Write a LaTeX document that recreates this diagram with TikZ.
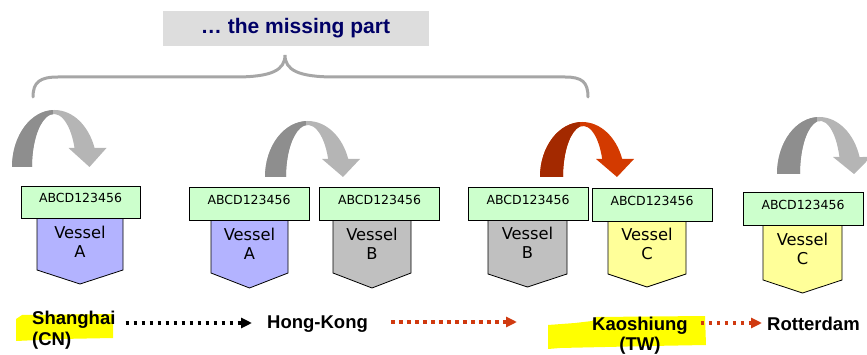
\documentclass[tikz,border=0pt]{standalone}
\usepackage{fontspec}
\setmainfont{Liberation Sans}
\newfontfamily\tagfont{DejaVu Sans}
\usetikzlibrary{arrows.meta}

\definecolor{titlegray}{HTML}{DDDDDD}
\definecolor{titlenavy}{HTML}{000066}
\definecolor{bracegray}{HTML}{A6A6A6}
\definecolor{taggreen}{HTML}{CCFFCC}
\definecolor{vesselA}{HTML}{B3B3FF}
\definecolor{vesselB}{HTML}{C0C0C0}
\definecolor{vesselC}{HTML}{FFFF99}
\definecolor{hilite}{HTML}{FFFF00}
\definecolor{routered}{HTML}{D03A10}
\definecolor{turnlight}{HTML}{B5B5B5}
\definecolor{turndark}{HTML}{8E8E8E}
\definecolor{turnredD}{HTML}{A32900}
\definecolor{turnredL}{HTML}{D33A00}

% U-turn arrow: #1 outer left x, #2 inner left x, #3 foot y, #4 crest y,
% #5 head base y, #6 head centre x, #7 rising colour, #8 falling colour
\newcommand\uturn[8]{%
  \pgfmathsetmacro\tcx{(#1+#6+9.5)/2}%
  \pgfmathsetmacro\trx{(#6+9.5-#1)/2}%
  \pgfmathsetmacro\try{#3-#4}%
  \pgfmathsetmacro\tcix{(#2+#6-11.5)/2}%
  \pgfmathsetmacro\tri{(#6-11.5-#2)/2}%
  \pgfmathsetmacro\triy{#3-#4-4}%
  \pgfmathsetmacro\tho{asin((#3-#5)/\try)}%
  \pgfmathsetmacro\thi{asin((#3-#5)/\triy)}%
  \pgfmathsetmacro\tix{\tcix+\tri*cos(\thi)}%
  \begin{scope}
    \clip (#1,-#3)
      arc[start angle=180,end angle=\tho,x radius=\trx,y radius=\try]
      -- (#6+19,-#5) -- (#6+2,-#3) -- (#6-19,-#5) -- (\tix,-#5)
      arc[start angle=\thi,end angle=180,x radius=\tri,y radius=\triy]
      -- cycle;
    \fill[#8] (#1-1,-#3-1) rectangle (#6+21,-#4+1);
    \fill[#7] (#1-1,-#3-1) rectangle (\tcx-2,-#4+1);
  \end{scope}}

% vessel hull: #1 left x, #2 right x, #3 top y, #4 side bottom y, #5 tip y, #6 fill
\newcommand\hull[6]{%
  \draw[hullline,fill=#6] (#1,-#3) -- (#2,-#3) -- (#2,-#4)
    -- ({(#1+#2)/2},-#5) -- (#1,-#4) -- cycle;}

\begin{document}
\begin{tikzpicture}[x=1pt,y=1pt,
  tagbox/.style={draw=black,line width=0.8pt,fill=taggreen,
    minimum width=120pt,minimum height=33pt,inner sep=0pt,
    text height=6pt,text depth=4pt,
    font=\tagfont\fontsize{12.5}{14}\selectfont},
  hullline/.style={draw=black,line width=0.8pt},
  vlabel/.style={inner sep=0pt,anchor=base,
    font=\tagfont\fontsize{16.3}{19}\selectfont},
  place/.style={inner sep=0pt,
    font=\bfseries\fontsize{18.5}{21}\selectfont},
  dotsline/.style={line width=3.2pt,dash pattern=on 3.5pt off 4.5pt,
    -{Triangle[length=11pt,width=10pt]}},
]
\useasboundingbox (0,0) rectangle (867,-355);

% title and brace
\node[fill=titlegray,minimum width=266pt,minimum height=35pt,inner sep=0pt,
  font=\bfseries\fontsize{21}{24}\selectfont,text=titlenavy]
  (title) at (295.5,-28.5) {… the missing part};
\draw[bracegray,line width=3pt,line cap=round]
  (33,-97) .. controls (33,-82) and (40,-77) .. (58,-77) -- (235,-77)
  .. controls (272,-77) and (285,-70) .. (285,-55)
  .. controls (285,-70) and (298,-77) .. (335,-77) -- (565,-77)
  .. controls (582,-77) and (588,-82) .. (588,-97);

% transshipment arrows
\uturn{12}{32}{167}{110}{148}{87.5}{turndark}{turnlight}
\uturn{265}{286}{177}{121}{159}{341}{turndark}{turnlight}
\uturn{540}{563}{177}{122}{159}{615}{turnredD}{turnredL}
\uturn{777}{800}{174}{117}{157}{852}{turndark}{turnlight}

% vessel hulls
\hull{37}{123}{218}{270}{284}{vesselA}
\hull{211}{288}{220}{273}{288}{vesselA}
\hull{333}{411}{220}{273}{288}{vesselB}
\hull{488}{567}{220}{274}{287}{vesselB}
\hull{608}{686}{221}{274}{287}{vesselC}
\hull{763}{842}{225}{280}{293}{vesselC}

% vessel labels
\node[vlabel] (v1a) at (80,-239) {Vessel};
\node[vlabel] (v1b) at (80,-258) {A};
\node[vlabel] (v2a) at (249.5,-241) {Vessel};
\node[vlabel] (v2b) at (249.5,-260) {A};
\node[vlabel] (v3a) at (372,-241) {Vessel};
\node[vlabel] (v3b) at (372,-260) {B};
\node[vlabel] (v4a) at (527.5,-240) {Vessel};
\node[vlabel] (v4b) at (527.5,-259) {B};
\node[vlabel] (v5a) at (647,-241) {Vessel};
\node[vlabel] (v5b) at (647,-260) {C};
\node[vlabel] (v6a) at (802.5,-246) {Vessel};
\node[vlabel] (v6b) at (802.5,-265) {C};

% container tags
\node[tagbox,minimum width=119pt,minimum height=32pt] (t1) at (80.5,-202) {ABCD123456};
\node[tagbox] (t2) at (249,-203.5) {ABCD123456};
\node[tagbox] (t3) at (379.5,-203.5) {ABCD123456};
\node[tagbox] (t4) at (528,-204) {ABCD123456};
\node[tagbox] (t5) at (652,-204.5) {ABCD123456};
\node[tagbox] (t6) at (803,-209) {ABCD123456};

% highlighter marks
\fill[hilite] (16,-319) -- (22,-315) -- (113,-314) -- (113,-338)
  -- (60,-339) -- (16,-341) -- cycle;
\fill[hilite] (548,-325) -- (575,-323) -- (592,-321) -- (596,-317)
  -- (705,-316) -- (706,-345) -- (650,-346) -- (560,-348) -- (548,-349) -- cycle;

% ports
\node[place,anchor=base west] (sh) at (32,-324.5) {Shanghai};
\node[place,anchor=base west] (cn) at (32,-345.5) {(CN)};
\node[place,anchor=base west] (hk) at (267,-328) {Hong-Kong};
\node[place,anchor=base west] (ks) at (592,-330) {Kaoshiung};
\node[place,anchor=base] (tw) at ([yshift=-20.5pt]ks.base) {(TW)};
\node[place,anchor=base west] (rt) at (767,-330) {Rotterdam};

% legs of the route
\draw[dotsline,black] ([xshift=10pt,yshift=1.5pt]sh.base east)
  -- ([xshift=-15pt,yshift=1.5pt]hk.west |- sh.base east);
\draw[dotsline,routered] ([xshift=23pt,yshift=6pt]hk.base east)
  -- ([xshift=-75pt,yshift=6pt]ks.west |- hk.base east);
\draw[dotsline,routered] ([xshift=13pt,yshift=7pt]ks.base east)
  -- ([xshift=-5pt,yshift=7pt]rt.west |- ks.base east);
\end{tikzpicture}
\end{document}
